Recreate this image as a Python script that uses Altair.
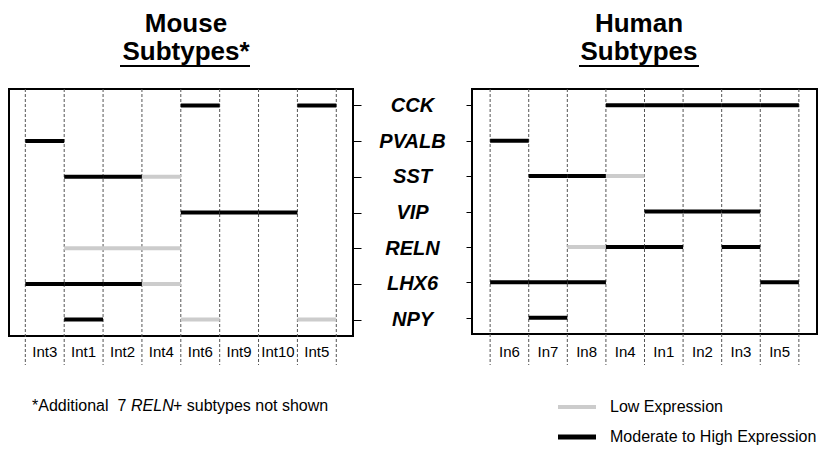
import altair as alt
import pandas as pd

# ---------------- data ----------------
genes = ["CCK", "PVALB", "SST", "VIP", "RELN", "LHX6", "NPY"]
mouse_types = ["Int3", "Int1", "Int2", "Int4", "Int6", "Int9", "Int10", "Int5"]
human_types = ["In6", "In7", "In8", "In4", "In1", "In2", "In3", "In5"]

# 0 = not shown, 1 = low expression, 2 = moderate to high expression
mouse_expr = {
    "CCK":   [0, 0, 0, 0, 2, 0, 0, 2],
    "PVALB": [2, 0, 0, 0, 0, 0, 0, 0],
    "SST":   [0, 2, 2, 1, 0, 0, 0, 0],
    "VIP":   [0, 0, 0, 0, 2, 2, 2, 0],
    "RELN":  [0, 1, 1, 1, 0, 0, 0, 0],
    "LHX6":  [2, 2, 2, 1, 0, 0, 0, 0],
    "NPY":   [0, 2, 0, 0, 1, 0, 0, 1],
}
human_expr = {
    "CCK":   [0, 0, 0, 2, 2, 2, 2, 2],
    "PVALB": [2, 0, 0, 0, 0, 0, 0, 0],
    "SST":   [0, 2, 2, 1, 0, 0, 0, 0],
    "VIP":   [0, 0, 0, 0, 2, 2, 2, 0],
    "RELN":  [0, 0, 1, 2, 2, 0, 2, 0],
    "LHX6":  [2, 2, 2, 0, 0, 0, 0, 2],
    "NPY":   [0, 2, 0, 0, 0, 0, 0, 0],
}
level_keys = ["none", "low", "high"]
legend_labels = {"low": "Low Expression", "high": "Moderate to High Expression"}
footnote_parts = ["*Additional\u00a0\u00a07 ", "RELN", "+ subtypes not shown"]

FONT = "Liberation Sans"
color_scale = alt.Scale(domain=["low", "high"], range=["#cccccc", "#000000"])


def text_layer(txt, x, y, size, weight="normal", style="normal", align="left",
               baseline="middle"):
    return alt.Chart(pd.DataFrame({"t": [txt]})).mark_text(
        font=FONT, fontSize=size, fontWeight=weight, fontStyle=style,
        align=align, baseline=baseline, color="black"
    ).encode(text="t:N", x=alt.value(x), y=alt.value(y))


def underline(x1, x2, y):
    return alt.Chart(pd.DataFrame({"a": [0]})).mark_rule(
        color="black", strokeWidth=2
    ).encode(x=alt.value(x1), x2=alt.value(x2), y=alt.value(y))


def panel(types, expr, domain, width, yaxis, t1, t2, tx, ul):
    rows = []
    for g in genes:
        for i, v in enumerate(expr[g]):
            if v:
                rows.append({"gene": g, "x0": i, "x1": i + 1, "level": level_keys[v]})
    seg = pd.DataFrame(rows)
    cols = pd.DataFrame({"name": types, "mid": [i + 0.5 for i in range(len(types))]})
    edges = pd.DataFrame({"b": list(range(len(types) + 1))})

    xs = alt.Scale(domain=domain, nice=False, zero=False)
    ys = alt.Scale(type="point", domain=genes, padding=0.46)

    grid = alt.Chart(edges).mark_rule(
        color="#555555", strokeWidth=1, strokeDash=[3, 2]
    ).encode(
        x=alt.X("b:Q", scale=xs, axis=None),
        y=alt.value(0), y2=alt.value(276),
    )
    segs = alt.Chart(seg).mark_rule(strokeWidth=4, strokeCap="butt").encode(
        x=alt.X("x0:Q", scale=xs, axis=None),
        x2="x1:Q",
        y=alt.Y("gene:N", scale=ys, sort=genes, axis=yaxis, title=None),
        color=alt.Color("level:N", scale=color_scale, legend=None),
    )
    labels = alt.Chart(cols).mark_text(
        font=FONT, fontSize=15, color="black", baseline="middle", align="center"
    ).encode(
        x=alt.X("mid:Q", scale=xs, axis=None),
        y=alt.value(263),
        text="name:N",
    )
    layers = [grid, segs, labels,
              text_layer(t1, tx, -57, 26, weight="bold", align="center",
                         baseline="alphabetic"),
              text_layer(t2, tx, -29, 26, weight="bold", align="center",
                         baseline="alphabetic"),
              underline(ul[0], ul[1], -23)]
    return layers, width


left_axis = alt.Axis(
    orient="right", domain=False, grid=False, ticks=True, tickSize=8,
    tickColor="black", tickWidth=1, labelFont=FONT, labelFontSize=20,
    labelFontStyle="italic", labelFontWeight="bold", labelAlign="center",
    labelBaseline="middle", labelPadding=51, labelColor="black",
)
right_axis = alt.Axis(
    orient="left", domain=False, grid=False, ticks=True, tickSize=6,
    tickColor="black", tickWidth=1, labels=False,
)

l_layers, lw = panel(mouse_types, mouse_expr, [-0.42, 8.43], 344, left_axis,
                     "Mouse", "Subtypes*", 177, (111, 241))
r_layers, rw = panel(human_types, human_expr, [-0.47, 8.47], 345, right_axis,
                     "Human", "Subtypes", 167, (107, 227))

# footnote (left panel)
l_layers += [
    text_layer(footnote_parts[0], 23, 317, 16),
    text_layer(footnote_parts[1], 122, 317, 16, style="italic"),
    text_layer(footnote_parts[2], 164, 317, 16),
]

# legend (right panel)
for lvl, yy, sw in [("low", 318, 4), ("high", 348, 5)]:
    ld = pd.DataFrame({"level": [lvl], "label": [legend_labels[lvl]]})
    r_layers.append(
        alt.Chart(ld).mark_rule(strokeWidth=sw).encode(
            x=alt.value(86), x2=alt.value(124), y=alt.value(yy),
            color=alt.Color("level:N", scale=color_scale, legend=None),
        )
    )
    r_layers.append(
        alt.Chart(ld).mark_text(font=FONT, fontSize=16, align="left",
                                baseline="middle", color="black").encode(
            x=alt.value(138), y=alt.value(yy), text="label:N"
        )
    )

left = alt.layer(*l_layers).properties(width=lw, height=247)
right = alt.layer(*r_layers).properties(width=rw, height=245)

chart = alt.hconcat(left, right, spacing=119, bounds="flush").configure_view(
    stroke="black", strokeWidth=2
).properties(padding={"top": 2, "left": 0, "right": 0, "bottom": 0},
             background="white")

chart.save("out.html", embed_options={"renderer": "svg", "actions": False})
